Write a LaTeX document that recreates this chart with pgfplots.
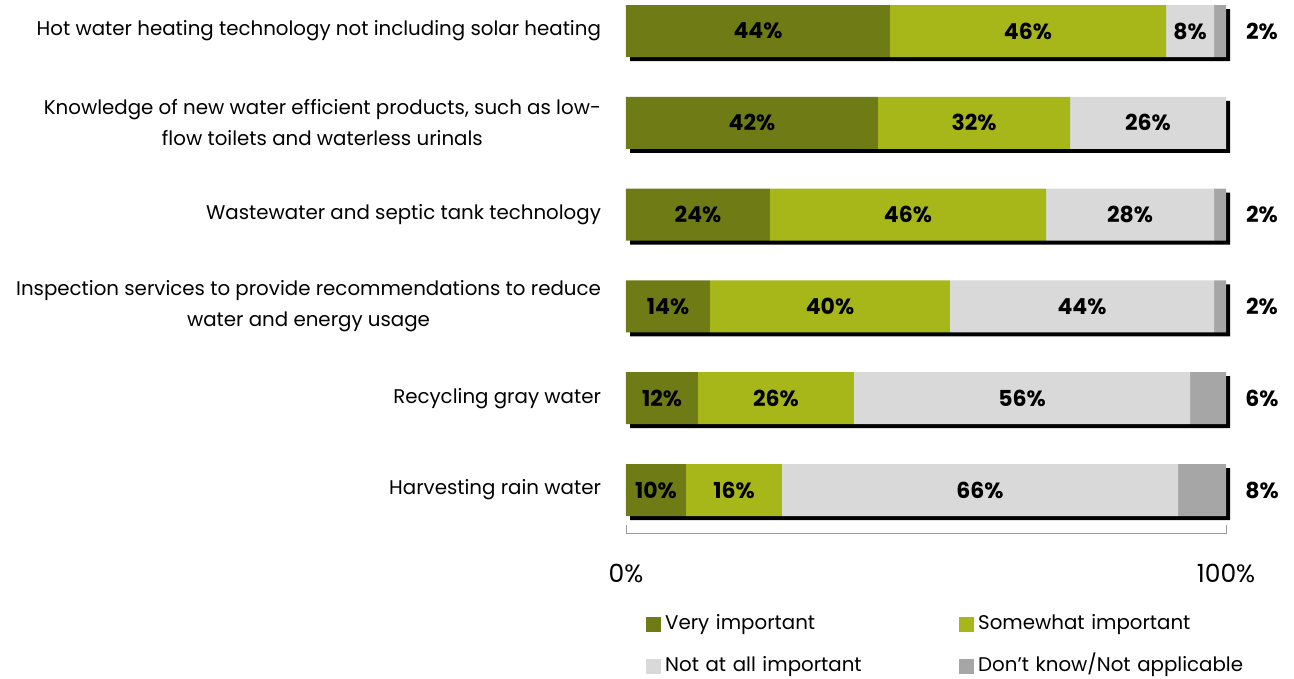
\documentclass[border=0pt]{standalone}
\usepackage{pgfplots}
\pgfplotsset{compat=1.18}
\usepackage{fontspec}
\setmainfont{Poppins}
\definecolor{cvi}{RGB}{111,123,20}
\definecolor{csi}{RGB}{167,183,26}
\definecolor{cna}{RGB}{217,217,217}
\definecolor{cdk}{RGB}{166,166,166}
\pgfplotsset{sqleg/.style={legend image code/.code={\fill[##1] (0pt,-3.75pt) rectangle (7.5pt,3.75pt);}}}
\begin{document}
\begin{tikzpicture}[font=\fontsize{9.9}{15.5}\selectfont]
\useasboundingbox (-313pt,-73pt) rectangle (334pt,266.5pt);
\pgfplotsset{base/.style={scale only axis, width=300pt, height=266.5pt,
  xmin=0, xmax=100, ymin=-0.468, ymax=5.338, clip=false}}
% shadow
\begin{scope}[shift={(2pt,-2pt)}]
\begin{axis}[base, hide axis, xbar, bar width=26pt]
\addplot[fill=black, draw=none] coordinates {(100,0) (100,1) (100,2) (100,3) (100,4) (100,5)};
\end{axis}
\end{scope}
% bars
\begin{axis}[base, xbar stacked, bar width=26pt,
  axis line style={draw=none}, major tick length=0pt,
  ytick={0,1,2,3,4,5},
  yticklabels={Harvesting rain water, Recycling gray water,
    {Inspection services to provide recommendations to reduce\\water and energy usage},
    Wastewater and septic tank technology,
    {Knowledge of new water efficient products, such as low-\\flow toilets and waterless urinals},
    Hot water heating technology not including solar heating},
  yticklabel style={align=center, xshift=-9pt},
  xtick={0,100}, xticklabels={0\%,100\%},
  xticklabel style={yshift=-12pt, font=\fontsize{12.5}{15}\selectfont},
  legend columns=2, legend cell align=left,
  legend style={draw=none, fill=none, at={(0.023,-0.138)}, anchor=north west,
    row sep=7pt, nodes={text width=145pt, align=left, inner sep=2pt, text height=7.5pt, text depth=2.5pt},
    /tikz/every even column/.append style={column sep=0pt}},
]
\addplot[fill=cvi, draw=none, sqleg]
  coordinates {(10,0) (12,1) (14,2) (24,3) (42,4) (44,5)};
\addplot[fill=csi, draw=none, sqleg]
  coordinates {(16,0) (26,1) (40,2) (46,3) (32,4) (46,5)};
\addplot[fill=cna, draw=none, sqleg]
  coordinates {(66,0) (56,1) (44,2) (28,3) (26,4) (8,5)};
\addplot[fill=cdk, draw=none, sqleg]
  coordinates {(8,0) (6,1) (2,2) (2,3) (0,4) (2,5)};
\legend{Very important, Somewhat important, Not at all important, Don't know/Not applicable}
\draw[gray!80] (axis cs:0,-0.381) -- (axis cs:0,-0.468) -- (axis cs:100,-0.468) -- (axis cs:100,-0.381);
\end{axis}
% labels
\begin{axis}[base, hide axis]
\addplot[only marks, mark=none, point meta=explicit symbolic,
  nodes near coords={\textbf{\pgfplotspointmeta\%}},
  every node near coord/.append style={anchor=center, font=\fontsize{11}{13}\selectfont}]
  table[meta=l] {
x y l
22 5 44
67 5 46
94 5 8
106 5 2
21 4 42
58 4 32
87 4 26
12 3 24
47 3 46
84 3 28
106 3 2
7 2 14
34 2 40
76 2 44
106 2 2
6 1 12
25 1 26
66 1 56
106 1 6
5 0 10
18 0 16
59 0 66
106 0 8
};
\end{axis}
\end{tikzpicture}
\end{document}
